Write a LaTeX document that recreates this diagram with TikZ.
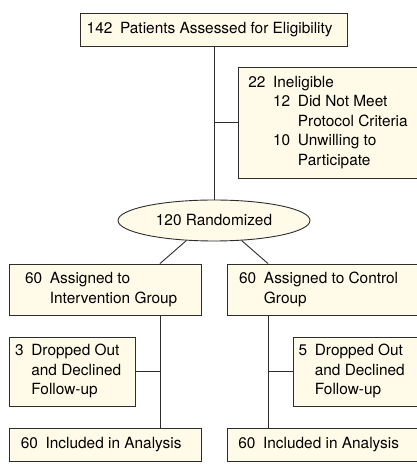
\documentclass[tikz,border=0pt]{standalone}
\usepackage{fontspec}
\setmainfont{TeX Gyre Heros}
\usepackage{xcolor}
\usepackage{tikz}
\usetikzlibrary{shapes.geometric, positioning, calc}
\definecolor{boxfill}{RGB}{255,251,232}
\definecolor{boxline}{RGB}{45,45,45}
\newcommand{\ctab}[1]{\begin{tabular}{@{}l@{\hspace{0.5em}}l@{\hspace{0.5em}}l@{}}#1\end{tabular}}
\tikzset{
    stagebox/.style={draw=boxline, fill=boxfill, line width=0.9pt, inner sep=0pt, align=center},
    stageoval/.style={stagebox, ellipse},
    link/.style={draw=boxline, line width=0.9pt},
    every node/.style={font=\fontsize{15.4}{19.5}\selectfont}
}

\begin{document}
\begin{tikzpicture}[x=1pt, y=1pt]
    \useasboundingbox (0,0) rectangle (417,474);
    % Enrollment
    \node[stagebox, minimum width=267, minimum height=33] (assess) at (213.5,444.5)
        {\ctab{142 & Patients Assessed for Eligibility}};
    \node[stagebox, minimum width=180, minimum height=111] (inelig) at (328,351.5)
        {\ctab{22 & \multicolumn{2}{@{}l@{}}{Ineligible}\\
                  & 12 & Did Not Meet\\
                  &    & Protocol Criteria\\
                  & 10 & Unwilling to\\
                  &    & Participate}};
    \node[stageoval, minimum width=192, minimum height=41] (rand) at (214,253.5)
        {120 Randomized};
    % Allocation
    \node[stagebox, minimum width=192, minimum height=51] (asgL) at (105,184.5)
        {\ctab{60 & Assigned to\\ & Intervention Group}};
    \node[stagebox, minimum width=191, minimum height=51] (asgR) at (322.5,184.5)
        {\ctab{60 & Assigned to Control\\ & Group}};
    % Follow-up
    \node[stagebox, minimum width=126, minimum height=69] (dropL) at (72,102.5)
        {\ctab{3 & Dropped Out\\ & and Declined\\ & Follow-up}};
    \node[stagebox, minimum width=125, minimum height=69] (dropR) at (355.5,102.5)
        {\ctab{5 & Dropped Out\\ & and Declined\\ & Follow-up}};
    % Analysis
    \node[stagebox, minimum width=192, minimum height=33] (anaL) at (105,29.5)
        {\ctab{60 & Included in Analysis}};
    \node[stagebox, minimum width=191, minimum height=33] (anaR) at (322.5,29.5)
        {\ctab{60 & Included in Analysis}};
    % Connectors
    \coordinate (armL) at (160,0);
    \coordinate (armR) at (268,0);
    \draw[link] (assess.south -| rand.north) -- (rand.north);
    \draw[link] (inelig.west) -- (inelig.west -| rand.north);
    \draw[link] (rand.216) -- (asgL.north -| armL);
    \draw[link] (rand.324) -- (asgR.north -| armR);
    \draw[link] (asgL.south -| armL) -- (anaL.north -| armL);
    \draw[link] (asgR.south -| armR) -- (anaR.north -| armR);
    \draw[link] (dropL.east) -- (dropL.east -| armL);
    \draw[link] (dropR.west) -- (dropR.west -| armR);
\end{tikzpicture}
\end{document}
